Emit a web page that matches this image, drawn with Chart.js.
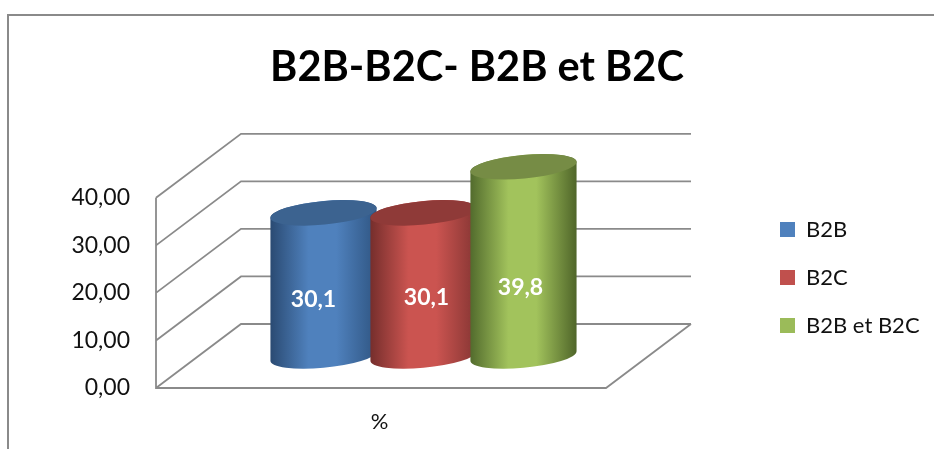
<!DOCTYPE html>
<html>
<head>
<meta charset="utf-8">
<style>html,body{margin:0;padding:0;background:#fff;overflow:hidden}canvas{display:block}</style>
<script src="https://cdn.jsdelivr.net/npm/chart.js@4"></script>
</head>
<body>
<canvas id="c" width="934" height="449"></canvas>
<script>
const categories = ['%'];
const seriesNames = ['B2B', 'B2C', 'B2B et B2C'];
const b2bValues = [30.1];
const b2cValues = [30.1];
const bothValues = [39.8];
const titleText = 'B2B-B2C- B2B et B2C';
const fontName = 'Lato';

const legendColors = ['#4f81bd', '#c0504d', '#9bbb59'];
const sideColors = [['#2a4a72','#4f81bd','#2f5582'], ['#752e2c','#cb5450','#853533'], ['#526b2d','#a2c35c','#4f6529']];
const capColors = ['#3c6390', '#8f3a38', '#768c45'];
const labelNudge = [[-10, 1], [3, -1.5], [-3, 0.5]];
const depthX = 85, depthY = 64, lineColor = '#8a8a8a';

const comma = (v, d) => v.toFixed(d).replace('.', ',');

function cylinder(ctx, bar, i) {
  const a = bar.width * 0.533, b = 11.8, rot = -5.4 * Math.PI / 180;
  const cx = bar.x, topY = bar.y - depthY / 2, baseY = bar.base - depthY / 2;
  const t0 = Math.atan(-(b / a) * Math.tan(rot));
  const g = ctx.createLinearGradient(cx - a, 0, cx + a, 0);
  const c = sideColors[i];
  g.addColorStop(0, c[0]); g.addColorStop(0.36, c[1]); g.addColorStop(0.62, c[1]); g.addColorStop(1, c[2]);
  ctx.beginPath();
  ctx.ellipse(cx, topY, a, b, rot, t0 + Math.PI, t0 + 2 * Math.PI, false);
  ctx.ellipse(cx, baseY, a, b, rot, t0, t0 + Math.PI, false);
  ctx.closePath();
  ctx.fillStyle = g;
  ctx.fill();
  ctx.beginPath();
  ctx.ellipse(cx, topY, a, b, rot, 0, 2 * Math.PI);
  ctx.fillStyle = capColors[i];
  ctx.fill();
}

const scene = {
  id: 'scene',
  beforeLayout(chart) {
    const lg = chart.legend;
    if (lg && !lg._wrapped) {
      const fit = lg.fit;
      lg.fit = function () { fit.call(this); this.width = 243; };
      lg._wrapped = true;
    }
  },
  afterLayout(chart) {
    const lg = chart.legend, p = lg.options.labels.padding;
    lg.left = 780 - p; lg.right = lg.left + lg.width;
    lg.top = 229.5 - p - lg.options.labels.font.size / 2;
  },
  beforeDraw(chart) {
    const ctx = chart.ctx;
    ctx.save();
    ctx.strokeStyle = '#8a8a8a'; ctx.lineWidth = 2;
    ctx.beginPath();
    ctx.moveTo(8, 449); ctx.lineTo(8, 15); ctx.lineTo(934, 15);
    ctx.stroke();
    ctx.restore();
  },
  beforeDatasetsDraw(chart) {
    const ctx = chart.ctx, y = chart.scales.y, area = chart.chartArea;
    const left = area.left, frontRight = area.right - depthX;
    ctx.save();
    ctx.strokeStyle = lineColor; ctx.lineWidth = 1.8;
    ctx.beginPath();
    y.ticks.forEach(t => {
      const py = y.getPixelForValue(t.value);
      ctx.moveTo(left, py);
      ctx.lineTo(left + depthX, py - depthY);
      ctx.lineTo(area.right, py - depthY);
    });
    const y0 = y.getPixelForValue(0);
    ctx.moveTo(left, y.getPixelForValue(y.max));
    ctx.lineTo(left, y0);
    ctx.lineTo(frontRight, y0);
    ctx.lineTo(area.right, y0 - depthY);
    ctx.stroke();
    ctx.restore();
  },
  beforeDatasetDraw() { return false; },
  afterDatasetsDraw(chart) {
    const ctx = chart.ctx;
    chart.data.datasets.forEach((ds, i) => {
      const bar = chart.getDatasetMeta(i).data[0];
      cylinder(ctx, bar, i);
    });
    ctx.save();
    ctx.fillStyle = '#fff';
    ctx.font = 'bold 23px ' + fontName;
    ctx.textAlign = 'center'; ctx.textBaseline = 'middle';
    chart.data.datasets.forEach((ds, i) => {
      const bar = chart.getDatasetMeta(i).data[0];
      const top = bar.y - depthY / 2, base = bar.base - depthY / 2;
      ctx.fillText(comma(ds.data[0], 1), bar.x + labelNudge[i][0], 0.26 * top + 0.74 * base - 20 + labelNudge[i][1]);
    });
    ctx.restore();
  }
};

new Chart(document.getElementById('c'), {
  type: 'bar',
  data: {
    labels: categories,
    datasets: [
      { label: seriesNames[0], data: b2bValues, backgroundColor: legendColors[0], borderWidth: 0 },
      { label: seriesNames[1], data: b2cValues, backgroundColor: legendColors[1], borderWidth: 0 },
      { label: seriesNames[2], data: bothValues, backgroundColor: legendColors[2], borderWidth: 0 }
    ]
  },
  options: {
    responsive: false,
    animation: false,
    devicePixelRatio: 1,
    categoryPercentage: 0.5607,
    barPercentage: 1,
    layout: { padding: { left: 20, right: 0, top: 0, bottom: 0 } },
    plugins: {
      title: {
        display: true, text: titleText, color: '#000',
        font: { family: fontName, size: 41.5, weight: 'bold' },
        padding: { top: 43, bottom: 105 }
      },
      legend: {
        position: 'right', align: 'start',
        labels: {
          color: '#111', boxWidth: 15, boxHeight: 15, padding: 26,
          font: { family: fontName, size: 22 }
        }
      },
      tooltip: { enabled: false }
    },
    scales: {
      x: {
        afterFit(s) { s.height = 61; },
        grid: { display: false, drawTicks: false }, border: { display: false },
        ticks: { color: '#111', padding: 21, labelOffset: -44, font: { family: fontName, size: 22 } }
      },
      y: {
        min: 0, max: 40,
        afterFit(s) { s.width = 136; },
        grid: { display: false, drawTicks: false }, border: { display: false },
        ticks: {
          stepSize: 10, color: '#111', padding: 26, font: { family: fontName, size: 23 },
          callback: v => comma(v, 2)
        }
      }
    }
  },
  plugins: [scene]
});
</script>
</body>
</html>
